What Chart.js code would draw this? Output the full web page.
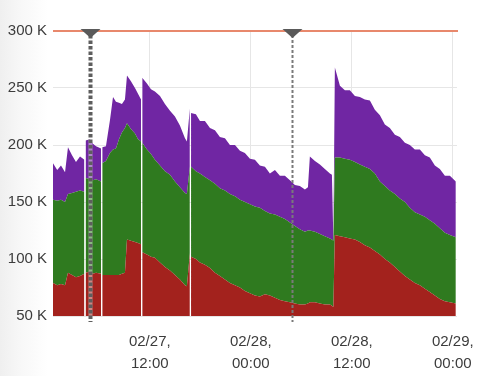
<!DOCTYPE html>
<html>
<head>
<meta charset="utf-8">
<script src="https://cdn.jsdelivr.net/npm/chart.js@4.4.1/dist/chart.umd.min.js"></script>
<style>
  html, body { margin: 0; padding: 0; }
  body { width: 477px; height: 376px; background: linear-gradient(to right, #efefef 0px, #f8f8f8 22px, #ffffff 48px); }
  canvas { display: block; }
</style>
</head>
<body>
<canvas id="load" width="477" height="376"></canvas>
<script>
// hours since 02/27 00:00 ; null rows are gaps in the data
const hours = [0.5, 1.0, 1.45, 1.93, 2.28, 2.76, 3.23, 3.71, 4.23, 4.30, 4.37, 4.89, 5.25, 5.61, 6.21, 6.28,
  6.35, 6.79, 7.27, 7.63, 7.98, 8.34, 8.69, 9.05, 9.29, 9.76, 10.24, 10.6, 10.96, 11.03, 11.10, 11.66,
  12.14, 12.61, 13.21, 13.8, 14.4, 14.99, 15.58, 16.18, 16.41, 16.76, 16.83, 16.90, 17.48, 17.96, 18.55,
  19.15, 19.74, 20.33, 20.93, 21.52, 22.12, 22.71, 23.3, 23.9, 24.49, 25.08, 25.68, 26.27, 26.87, 27.46,
  28.05, 28.65, 29.24, 29.83, 30.43, 30.79, 31.02, 31.62, 32.21, 32.8, 33.4, 33.64, 33.81, 33.99, 34.59,
  35.18, 35.77, 36.37, 36.96, 37.55, 38.15, 38.74, 39.34, 39.93, 40.52, 41.12, 41.71, 42.31, 42.9, 43.49,
  44.09, 44.68, 45.27, 45.87, 46.46, 47.06, 47.65, 48.36];

// values in K
const redVals = [79, 77, 78, 77, 88, 86, 84, 85, 87, null, 88, 89, 87, 88, 87, null,
  86, 86, 86, 86, 86, 86, 87, 88, 117, 116, 115, 114, 113, null, 106, 104,
  102, 101, 97, 93, 90, 86, 82, 77, 76, 105, null, 102, 100, 97, 95,
  92, 88, 85, 82, 79, 77, 75, 72, 70, 68, 67, 69, 68, 66, 64,
  63, 62, 61, 60, 60, 61, 62, 62, 61, 60, 60, 59, 58, 121, 120,
  119, 118, 117, 115, 112, 110, 107, 104, 100, 97, 93, 89, 85, 82, 79,
  77, 74, 71, 68, 65, 63, 62, 61];

const greenVals = [73, 74, 74, 73, 69, 72, 75, 75, 72, null, 83, 81, 82, 82, 81, null,
  98, 100, 107, 110, 111, 119, 124, 127, 102, 98, 95, 91, 90, null, 96, 92,
  90, 86, 85, 84, 84, 82, 81, 81, 81, 76, null, 79, 77, 78, 77,
  77, 78, 77, 78, 78, 78, 77, 78, 78, 78, 78, 73, 72, 73, 73,
  72, 70, 68, 66, 64, 64, 63, 62, 61, 60, 58, 58, 58, 68, 69,
  69, 69, 68, 68, 69, 69, 68, 64, 64, 63, 64, 64, 65, 63, 62,
  62, 63, 63, 63, 62, 60, 59, 58];

const purpleVals = [32, 27, 30, 26, 41, 33, 26, 30, 28, null, 33, 35, 32, 29, 29, null,
  14, 13, 29, 46, 41, 32, 25, 25, 42, 42, 40, 40, 37, null, 57, 58,
  57, 60, 61, 59, 56, 57, 54, 48, 46, 51, null, 47, 50, 46, 49,
  46, 47, 45, 46, 43, 45, 43, 43, 40, 41, 37, 39, 35, 39, 36,
  38, 37, 36, 38, 37, 38, 65, 62, 61, 59, 57, 57, 1, 79, 63,
  60, 61, 58, 59, 59, 60, 56, 58, 54, 55, 52, 54, 52, 55, 55,
  57, 54, 55, 51, 52, 50, 52, 49];

const tickHours = [12, 24, 36, 48];
const tickLabels = [["02/27,", "12:00"], ["02/28,", "00:00"], ["02/28,", "12:00"], ["02/29,", "00:00"]];
const yTicks = [50, 100, 150, 200, 250, 300];
const capValue = 300;
const markerHours = [4.9, 28.9];

const points = vals => vals.map((v, i) => ({ x: hours[i], y: v }));

const font = { family: "'Liberation Sans', Arial, sans-serif", size: 15 };
const gridColor = '#e6e6e6';

const overlay = {
  id: 'overlay',
  afterDatasetsDraw(chart) {
    const { ctx, chartArea, scales } = chart;
    const yCap = scales.y.getPixelForValue(capValue);
    ctx.save();
    ctx.strokeStyle = '#e8886c';
    ctx.lineWidth = 2;
    ctx.beginPath();
    ctx.moveTo(chartArea.left, yCap);
    ctx.lineTo(chartArea.right + 1, yCap);
    ctx.stroke();

    markerHours.forEach((h, i) => {
      const x = Math.round(scales.x.getPixelForValue(h)) + 0.5;
      const bottom = chartArea.bottom + 6;
      if (i === 0) {
        ctx.setLineDash([]);
        ctx.strokeStyle = 'rgba(255,255,255,0.45)';
        ctx.lineWidth = 4;
        ctx.beginPath(); ctx.moveTo(x, yCap); ctx.lineTo(x, bottom); ctx.stroke();
        ctx.setLineDash([3.5, 2]);
        ctx.strokeStyle = '#5e5e5e';
        ctx.lineWidth = 4;
      } else {
        ctx.setLineDash([3, 2]);
        ctx.strokeStyle = '#7a7a7a';
        ctx.lineWidth = 2;
      }
      ctx.beginPath(); ctx.moveTo(x, yCap + 4); ctx.lineTo(x, bottom); ctx.stroke();
      ctx.setLineDash([]);
      ctx.fillStyle = '#5a5a5a';
      ctx.beginPath();
      ctx.moveTo(x - 10, yCap - 2);
      ctx.lineTo(x + 10, yCap - 2);
      ctx.lineTo(x, yCap + 7);
      ctx.closePath();
      ctx.fill();
    });
    ctx.restore();
  }
};

const ctx = document.getElementById('load');
const myChart = new Chart(ctx, {
  type: 'line',
  data: {
    datasets: [
      { label: 'red', data: points(redVals), backgroundColor: '#a3221d', fill: 'origin' },
      { label: 'green', data: points(greenVals), backgroundColor: '#2f7a1f', fill: '-1' },
      { label: 'purple', data: points(purpleVals), backgroundColor: '#7026a3', fill: '-1' }
    ]
  },
  options: {
    responsive: false,
    animation: false,
    layout: { padding: { top: 31, right: 20, left: 0, bottom: 0 } },
    elements: {
      point: { radius: 0 },
      line: { borderWidth: 0, tension: 0 }
    },
    plugins: {
      legend: { display: false },
      tooltip: { enabled: false }
    },
    scales: {
      x: {
        type: 'linear',
        min: 0.5,
        max: 48.5,
        afterBuildTicks: s => { s.ticks = tickHours.map(v => ({ value: v })); },
        afterFit: s => { s.height = 60; s.paddingLeft = 0; s.paddingRight = 0; },
        ticks: {
          autoSkip: false,
          maxRotation: 0,
          padding: 15,
          color: '#3c3c3c',
          font: { ...font, lineHeight: 1.47 },
          callback: v => tickLabels[tickHours.indexOf(v)]
        },
        grid: { color: gridColor, drawTicks: false },
        border: { display: false }
      },
      y: {
        stacked: true,
        min: 50,
        max: 300,
        afterBuildTicks: s => { s.ticks = yTicks.map(v => ({ value: v })); },
        afterFit: s => { s.width = 53; },
        ticks: {
          padding: 6,
          color: '#3c3c3c',
          font: font,
          callback: v => v + ' K'
        },
        grid: { color: gridColor, drawTicks: false },
        border: { display: false }
      }
    }
  },
  plugins: [overlay]
});
</script>
</body>
</html>
